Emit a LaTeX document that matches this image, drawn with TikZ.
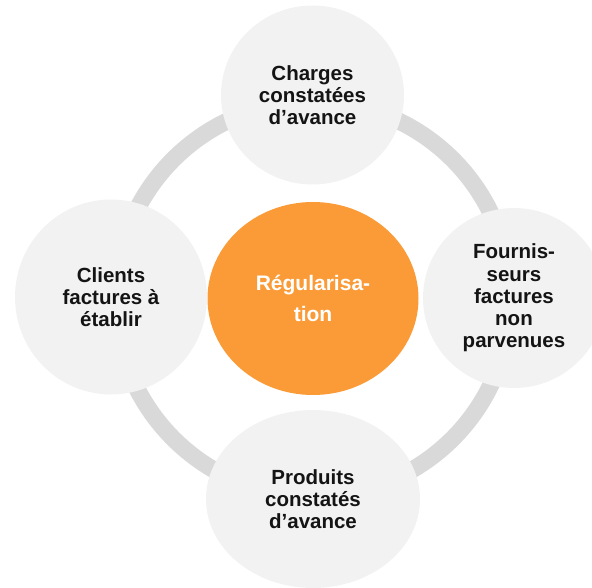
\documentclass[tikz,border=0pt]{standalone}
\usepackage{fontspec}
\setmainfont{Liberation Sans}
\usetikzlibrary{shapes.geometric}
\definecolor{ringgray}{RGB}{217,217,217}
\definecolor{bubble}{RGB}{242,242,242}
\definecolor{orangec}{RGB}{250,155,55}
\definecolor{txt}{RGB}{20,20,20}
\tikzset{
  bubblenode/.style={ellipse, fill=bubble, inner sep=0pt, align=center,
    font=\fontsize{20.5}{22.3}\selectfont\bfseries, text=txt},
  centernode/.style={ellipse, fill=orangec, inner sep=0pt, align=center,
    font=\fontsize{21}{31}\selectfont\bfseries, text=white},
  ringline/.style={draw=ringgray, line width=17pt}
}
\begin{document}
\begin{tikzpicture}[x=1pt,y=-1pt]
\useasboundingbox (0,0) rectangle (592,588);
\draw[ringline] (313,299) circle (197.5);
\node[bubblenode, minimum width=183pt, minimum height=179pt] (top) at (312.5,95) {Charges\\constatées\\d’avance};
\node[bubblenode, minimum width=192pt, minimum height=195pt] (left) at (111,297) {Clients\\factures à\\établir};
\node[bubblenode, minimum width=182pt, minimum height=180pt] (right) at (514,298) {Fournis-\\seurs\\factures\\non\\parvenues};
\node[bubblenode, minimum width=214pt, minimum height=178pt] (bottom) at (313,499) {Produits\\constatés\\d’avance};
\node[centernode, minimum width=211pt, minimum height=193pt] (center) at (313,298.5) {Régularisa-\\tion};
\end{tikzpicture}
\end{document}
